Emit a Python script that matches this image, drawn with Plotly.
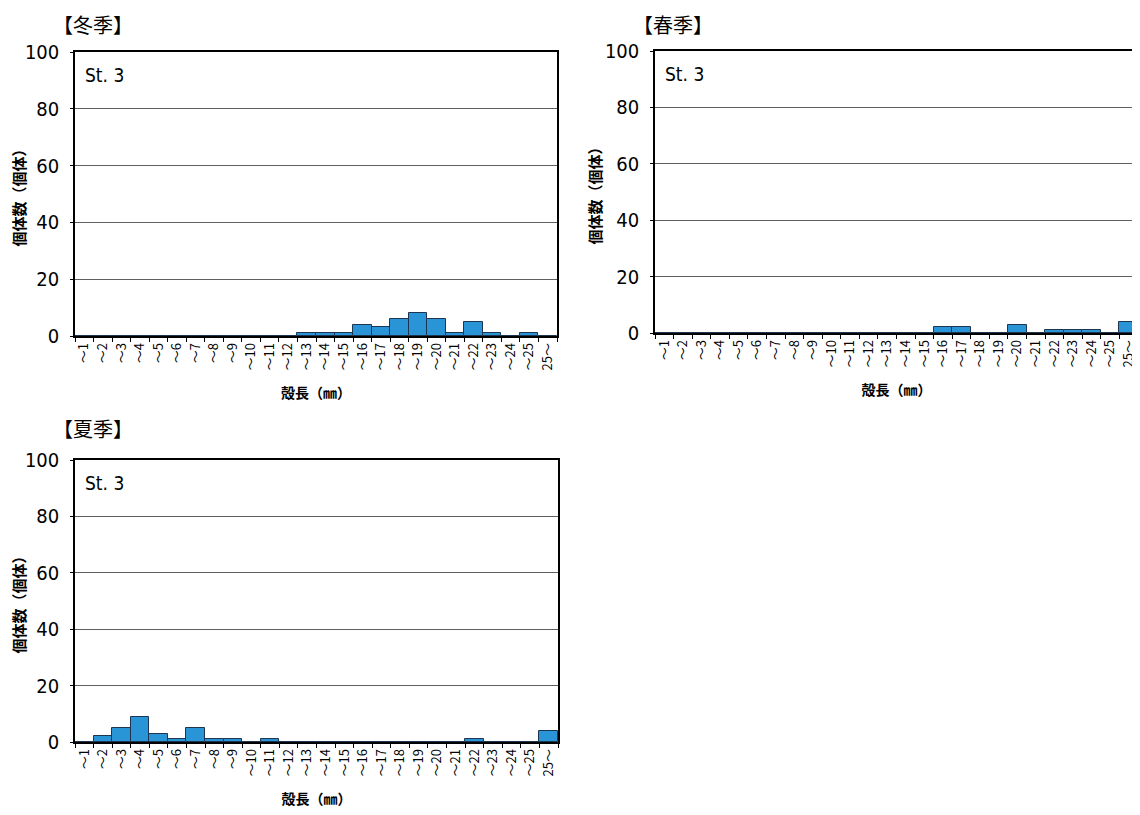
import plotly.graph_objects as go

# shell length classes (mm)
size_classes = ["～1", "～2", "～3", "～4", "～5", "～6", "～7", "～8", "～9", "～10",
                "～11", "～12", "～13", "～14", "～15", "～16", "～17", "～18", "～19", "～20",
                "～21", "～22", "～23", "～24", "～25", "25～"]

# counts per class, St.3
winter = [0, 0, 0, 0, 0, 0, 0, 0, 0, 0, 0, 0, 1, 1, 1, 4, 3, 6, 8, 6, 1, 5, 1, 0, 1, 0]
spring = [0, 0, 0, 0, 0, 0, 0, 0, 0, 0, 0, 0, 0, 0, 0, 2, 2, 0, 0, 3, 0, 1, 1, 1, 0, 4]
summer = [0, 2, 5, 9, 3, 1, 5, 1, 1, 0, 1, 0, 0, 0, 0, 0, 0, 0, 0, 0, 0, 1, 0, 0, 0, 4]

seasons = ["【冬季】", "【春季】", "【夏季】"]
station = "St. 3"
y_ticks = [0, 20, 40, 60, 80, 100]

W, H = 1140, 815
OFF = 8  # page body margin
# plot boxes in screen pixels: left, right, top, bottom
boxes = [(75, 557, 52, 336), (655, 1138, 51, 333), (75, 558, 460, 742)]

JP = "Noto Sans CJK JP"
NUM = "DejaVu Sans Condensed, Liberation Sans Narrow, Noto Sans CJK JP"

fig = go.Figure()
for i, vals in enumerate([winter, spring, summer]):
    s = "" if i == 0 else str(i + 1)
    fig.add_trace(go.Bar(x=size_classes, y=vals, xaxis="x" + s, yaxis="y" + s,
                         marker=dict(color="#2a95d6", line=dict(color="#1d3550", width=1)),
                         showlegend=False))
    l, r, t, b = [v - OFF for v in boxes[i]]
    fig.layout["xaxis" + s] = dict(
        domain=[l / W, r / W], anchor="y" + s, automargin=False,
        showline=True, linecolor="black", linewidth=1.5, mirror=True,
        ticks="outside", tickson="boundaries", ticklen=4, tickcolor="black",
        tickangle=-90, tickfont=dict(family=JP, size=13, color="black"),
        showgrid=False,
        title=dict(text="<b>殻長（㎜）</b>", font=dict(family=JP, size=14, color="black"), standoff=19),
    )
    fig.layout["yaxis" + s] = dict(
        domain=[1 - b / H, 1 - t / H], anchor="x" + s, range=[0, 100], automargin=False,
        tickvals=y_ticks, showline=True, linecolor="black", linewidth=1.5, mirror=True,
        ticks="outside", ticklen=3, tickcolor="black", ticklabelstandoff=7,
        tickfont=dict(family=NUM, size=20, color="black"),
        showgrid=True, gridcolor="#606060", gridwidth=1, zeroline=False,
        title=dict(text="<b>個体数（個体）</b>", font=dict(family=JP, size=15, color="black"), standoff=0),
    )
    title_top = max(t - 48, 0)
    fig.add_annotation(x=(l - 24) / W, y=1 - title_top / H, xref="paper", yref="paper",
                       text=seasons[i], showarrow=False, xanchor="left", yanchor="top",
                       font=dict(family=JP, size=20, color="black"))
    fig.add_annotation(x=(l + 8) / W, y=1 - (t + 23) / H, xref="paper", yref="paper",
                       text=station, showarrow=False, xanchor="left", yanchor="middle",
                       font=dict(family=NUM, size=19, color="black"))

fig.update_layout(width=W, height=H, margin=dict(l=0, r=0, t=0, b=0),
                  bargap=0, plot_bgcolor="white", paper_bgcolor="white")

fig.write_html("out.html")
